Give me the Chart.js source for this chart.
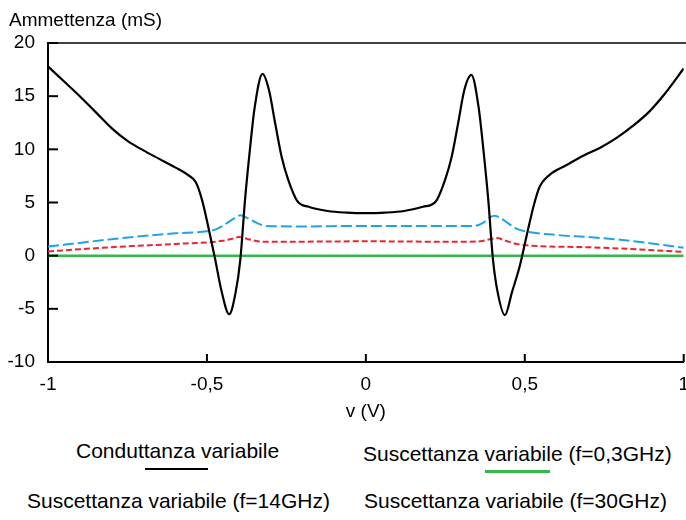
<!DOCTYPE html>
<html>
<head>
<meta charset="utf-8">
<script src="https://cdn.jsdelivr.net/npm/chart.js@4/dist/chart.umd.min.js"></script>
<style>
  html, body { margin: 0; padding: 0; background: #fff; overflow: hidden; width: 686px; height: 520px; }
  #wrap { position: absolute; left: 0; top: 0; width: 700px; height: 430px; }
  .lg { position: absolute; font-family: "Liberation Sans", Arial, sans-serif; font-size: 21px; line-height: 21px; color: #000; white-space: nowrap; }
  .ln { position: absolute; height: 2px; }
</style>
</head>
<body>
<div id="wrap"><canvas id="c" width="700" height="430"></canvas></div>
<div class="lg" style="left:76px; top:440px;">Conduttanza variabile</div>
<div class="ln" style="left:145px; top:468px; width:63px; background:#000;"></div>
<div class="lg" style="left:363px; top:443px;">Suscettanza variabile (f=0,3GHz)</div>
<div class="ln" style="left:485px; top:470px; width:65px; height:3px; background:#34b84c;"></div>
<div class="lg" style="left:27px; top:490px;">Suscettanza variabile (f=14GHz)</div>
<div class="lg" style="left:364px; top:490px;">Suscettanza variabile (f=30GHz)</div>
<script>
// ---- data ----
const xTitle = "v (V)";
const yTitle = "Ammettenza (mS)";
const xTicks = [-1, -0.5, 0, 0.5, 1];
const yTicks = [-10, -5, 0, 5, 10, 15, 20];

const condX = [-1,-0.95,-0.9,-0.85,-0.8,-0.75,-0.7,-0.65,-0.6,-0.56,-0.535,-0.515,-0.495,-0.475,-0.455,-0.43,-0.41,-0.395,-0.38,-0.365,-0.35,-0.325,-0.305,-0.285,-0.265,-0.245,-0.215,-0.18,-0.12,-0.06,0,
  0.06,0.12,0.18,0.22,0.25,0.27,0.29,0.31,0.332,0.355,0.37,0.385,0.4,0.415,0.4375,0.46,0.484,0.506,0.528,0.547,0.578,0.63,0.684,0.74,0.79,0.84,0.89,0.94,1];
const condY = [17.8,16.4,15.0,13.5,12.0,10.8,9.9,9.1,8.3,7.6,6.9,5.2,2.6,-0.2,-3.2,-5.5,-3.5,-0.4,5.3,9.9,13.9,17.1,15.6,12.4,9.3,7.2,5.1,4.6,4.2,4.05,4.0,
  4.05,4.2,4.6,5.1,7.2,9.3,12.4,15.6,17.0,13.9,9.9,5.3,-0.4,-3.5,-5.6,-3.4,-1.0,1.9,4.7,6.5,7.6,8.5,9.4,10.2,11.1,12.2,13.5,15.2,17.6];

const b03X = [-1, 1];
const b03Y = [0, 0];

const b30X = [-1,-0.9,-0.8,-0.7,-0.6,-0.5,-0.47,-0.44,-0.41,-0.395,-0.37,-0.345,-0.315,-0.2,0,0.2,0.34,0.37,0.39,0.406,0.425,0.445,0.47,0.5,0.6,0.7,0.8,0.9,1];
const b30Y = [0.85,1.2,1.55,1.85,2.1,2.3,2.5,3.0,3.6,3.8,3.5,3.1,2.8,2.75,2.8,2.8,2.8,3.1,3.6,3.75,3.5,3.1,2.6,2.3,1.95,1.75,1.5,1.15,0.75];

const b14X = [-1,-0.9,-0.8,-0.7,-0.6,-0.5,-0.45,-0.42,-0.4,-0.37,-0.34,-0.3,0,0.3,0.36,0.39,0.412,0.44,0.475,0.54,0.69,0.85,1];
const b14Y = [0.4,0.6,0.8,0.95,1.1,1.25,1.4,1.6,1.75,1.55,1.35,1.3,1.35,1.3,1.35,1.55,1.65,1.4,1.1,0.9,0.8,0.6,0.35];

const pts = (xs, ys) => xs.map((x, i) => ({x: x, y: ys[i]}));
const FONT = "'Liberation Sans', Arial, sans-serif";

const decor = {
  id: 'decor',
  afterDraw(chart) {
    const ctx = chart.ctx, a = chart.chartArea;
    const xs = chart.scales.x, ys = chart.scales.y;
    ctx.save();
    ctx.strokeStyle = '#000';
    // top frame line
    ctx.lineWidth = 1.5;
    ctx.beginPath(); ctx.moveTo(a.left, a.top); ctx.lineTo(a.right + 5, a.top); ctx.stroke();
    // inward tick marks
    ctx.lineWidth = 2;
    yTicks.forEach(v => {
      const p = ys.getPixelForValue(v);
      ctx.beginPath(); ctx.moveTo(a.left, p); ctx.lineTo(a.left + 10, p); ctx.stroke();
    });
    xTicks.forEach(v => {
      const p = xs.getPixelForValue(v);
      ctx.beginPath(); ctx.moveTo(p, a.bottom); ctx.lineTo(p, a.bottom - 8); ctx.stroke();
    });
    // y-axis title (horizontal, top-left)
    ctx.fillStyle = '#000';
    ctx.font = "19px " + FONT;
    ctx.textBaseline = 'alphabetic';
    ctx.textAlign = 'left';
    ctx.fillText(yTitle, a.left - 39, 25.5);
    ctx.restore();
  }
};

new Chart(document.getElementById('c'), {
  type: 'line',
  data: {
    datasets: [
      { label: 'Conduttanza variabile', data: pts(condX, condY), borderColor: '#000', borderWidth: 2.2, cubicInterpolationMode: 'monotone', pointRadius: 0 },
      { label: 'Suscettanza variabile (f=0,3GHz)', data: pts(b03X, b03Y), borderColor: '#34b84c', borderWidth: 2.5, pointRadius: 0 },
      { label: 'Suscettanza variabile (f=30GHz)', data: pts(b30X, b30Y), borderColor: '#1ea4e2', borderWidth: 2, borderDash: [11, 4], cubicInterpolationMode: 'monotone', pointRadius: 0 },
      { label: 'Suscettanza variabile (f=14GHz)', data: pts(b14X, b14Y), borderColor: '#e8262e', borderWidth: 2, borderDash: [6, 3], cubicInterpolationMode: 'monotone', pointRadius: 0 }
    ]
  },
  options: {
    responsive: false,
    animation: false,
    devicePixelRatio: 1,
    layout: { padding: { left: 0, top: 43, right: 11, bottom: 0 } },
    plugins: { legend: { display: false }, tooltip: { enabled: false }, title: { display: false } },
    scales: {
      x: {
        type: 'linear', min: -1, max: 1,
        afterFit: s => { s.height = 68; },
        afterBuildTicks: s => { s.ticks = xTicks.map(v => ({value: v})); },
        grid: { display: false, drawTicks: false },
        border: { display: true, color: '#000', width: 2 },
        ticks: { color: '#000', font: { family: FONT, size: 19 }, padding: 11, maxRotation: 0, autoSkip: false,
                 callback: v => String(v).replace('.', ',') },
        title: { display: true, text: xTitle, color: '#000', font: { family: FONT, size: 19 }, padding: { top: 2, bottom: 7 } }
      },
      y: {
        type: 'linear', min: -10, max: 20,
        afterFit: s => { s.width = 48; },
        afterBuildTicks: s => { s.ticks = yTicks.map(v => ({value: v})); },
        grid: { display: false, drawTicks: false },
        border: { display: true, color: '#000', width: 2 },
        ticks: { color: '#000', font: { family: FONT, size: 19 }, padding: 13, autoSkip: false,
                 callback: v => String(v) }
      }
    }
  },
  plugins: [decor]
});
</script>
</body>
</html>
